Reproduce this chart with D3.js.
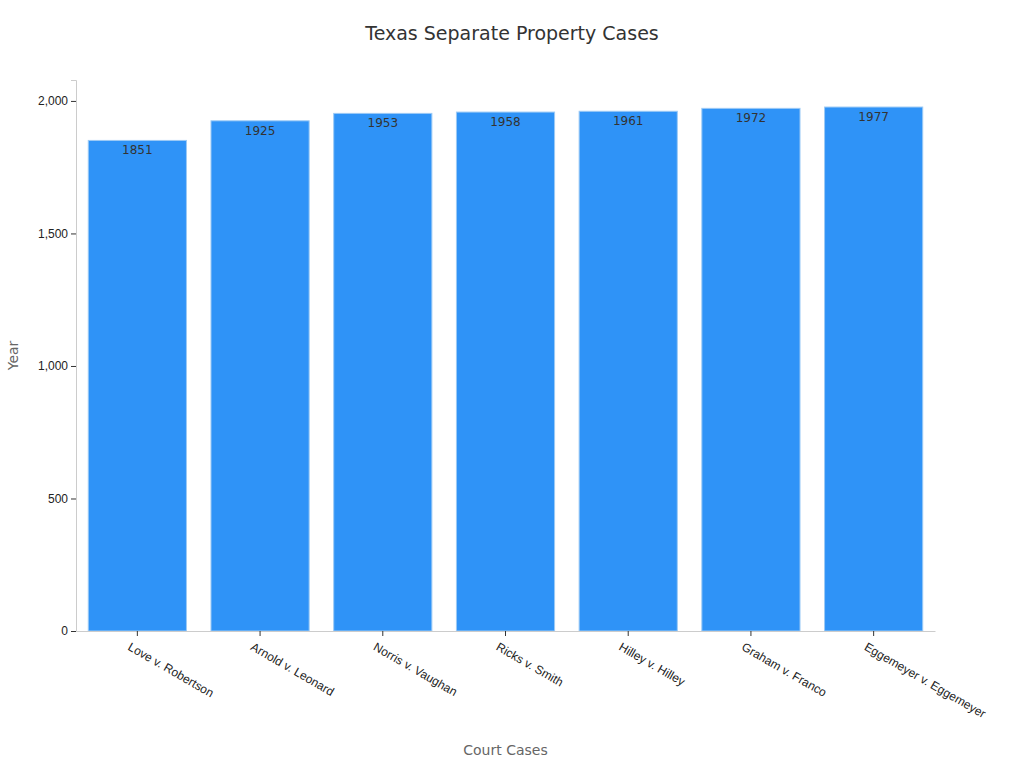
<!DOCTYPE html>
<html><head><meta charset="utf-8">
<script src="https://cdn.jsdelivr.net/npm/d3@7"></script>
<style>body{margin:0;background:#fff;font-family:"DejaVu Sans",sans-serif}</style>
</head><body>
<script>
// données
const cases = ["Love v. Robertson","Arnold v. Leonard","Norris v. Vaughan","Ricks v. Smith","Hilley v. Hilley","Graham v. Franco","Eggemeyer v. Eggemeyer"];
const years = [1851,1925,1953,1958,1961,1972,1977];
const yTicks = [0,500,1000,1500,2000];

let margin = {top: 80, right: 89, bottom: 137, left: 76};
let width = 1024 - margin.left - margin.right,
    height = 768 - margin.top - margin.bottom;

const svg = d3.select("body").append("svg")
  .attr("width", 1024).attr("height", 768);

svg.append("text").attr("x", 512).attr("y", 40).attr("text-anchor","middle")
  .attr("font-size", 19).attr("fill","#333").text("Texas Separate Property Cases");

const g = svg.append("g").attr("transform", `translate(${margin.left},${margin.top})`);

const x = d3.scaleBand().domain(cases).range([0, width]).paddingInner(0.2).paddingOuter(0.1);
const y = d3.scaleLinear().domain([0, 2079]).range([height, 0]);

g.selectAll("rect").data(years).enter().append("rect")
  .attr("x", (d,i) => x(cases[i]))
  .attr("width", x.bandwidth())
  .attr("y", d => y(d))
  .attr("height", d => height - y(d))
  .attr("fill", "#2f93f7")
  .attr("stroke", "#9ccaf5").attr("stroke-width", 1);

g.selectAll(".lbl").data(years).enter().append("text")
  .attr("x", (d,i) => x(cases[i]) + x.bandwidth()/2)
  .attr("y", d => y(d) + 14)
  .attr("text-anchor","middle").attr("font-size", 12).attr("fill","#333")
  .text(d => d);

const ya = g.append("g").call(d3.axisLeft(y).tickValues(yTicks).tickSize(5));
ya.select(".domain").attr("stroke","#ccc");
ya.selectAll("line").attr("stroke","#333");
ya.selectAll("text").attr("font-size", 12).attr("fill","#222");

const xa = g.append("g").attr("transform", `translate(0,${height})`)
  .call(d3.axisBottom(x).tickSize(5).tickSizeOuter(0));
xa.select(".domain").attr("stroke","#ccc");
xa.selectAll("line").attr("stroke","#333");
xa.selectAll("text").attr("font-size", 12).attr("fill","#222")
  .attr("text-anchor","start")
  .attr("transform","translate(-2,4) rotate(30)");

svg.append("text").attr("x", margin.left + width/2).attr("y", 755)
  .attr("text-anchor","middle").attr("font-size", 14).attr("fill","#666").text("Court Cases");
svg.append("text").attr("transform", `translate(18,${margin.top + height*0.5}) rotate(-90)`)
  .attr("text-anchor","middle").attr("font-size", 14).attr("fill","#666").text("Year");
</script>
</body></html>
